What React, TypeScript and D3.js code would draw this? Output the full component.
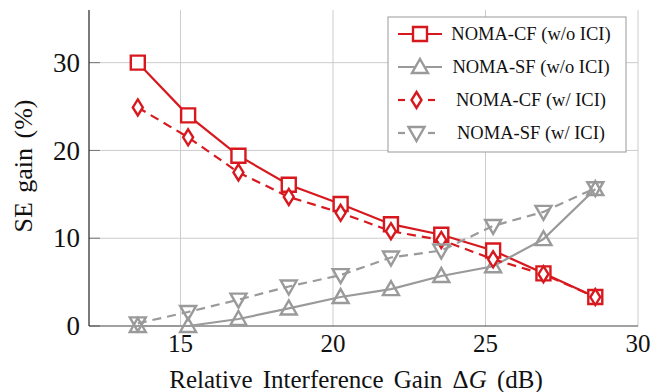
import React, { useEffect, useRef } from "react";
import * as d3 from "d3";

// relative interference gain (dB)
const gainDb = [13.6, 15.25, 16.9, 18.55, 20.25, 21.9, 23.55, 25.25, 26.9, 28.6];

const cfNoIci = [30.0, 24.0, 19.4, 16.1, 13.9, 11.6, 10.4, 8.6, 6.0, 3.3];
const sfNoIci = [0.0, 0.0, 0.8, 2.0, 3.3, 4.2, 5.7, 6.8, 9.9, 15.6];
const cfIci = [24.9, 21.5, 17.5, 14.7, 12.9, 10.8, 9.8, 7.6, 5.9, 3.3];
const sfIci = [0.3, 1.6, 3.0, 4.5, 5.8, 7.8, 8.6, 11.4, 13.0, 15.7];

const xTicks = [15, 20, 25, 30];
const yTicks = [0, 10, 20, 30];

const RED = "#d7191f";
const GREY = "#9a9a9a";

type Marker = "square" | "triUp" | "diamond" | "triDown";

interface Series {
  name: string;
  values: number[];
  color: string;
  dashed: boolean;
  marker: Marker;
}

const series: Series[] = [
  { name: "NOMA-CF (w/o ICI)", values: cfNoIci, color: RED, dashed: false, marker: "square" },
  { name: "NOMA-SF (w/o ICI)", values: sfNoIci, color: GREY, dashed: false, marker: "triUp" },
  { name: "NOMA-CF (w/ ICI)", values: cfIci, color: RED, dashed: true, marker: "diamond" },
  { name: "NOMA-SF (w/ ICI)", values: sfIci, color: GREY, dashed: true, marker: "triDown" },
];

const markerPath = (m: Marker) => {
  switch (m) {
    case "square":
      return "M-7,-7H7V7H-7Z";
    case "triUp":
      return "M0,-8L8,6H-8Z";
    case "triDown":
      return "M0,8L8,-6H-8Z";
    case "diamond":
      return "M0,-8L5,0L0,8L-5,0Z";
  }
};

const FONT = "Liberation Serif, DejaVu Serif, Times New Roman, serif";

export default function App() {
  const svgRef = useRef<SVGSVGElement | null>(null);

  useEffect(() => {
    if (!svgRef.current) return;
    const svg = d3.select(svgRef.current);
    svg.selectAll("*").remove();

    const margin = { top: 10, right: 16, bottom: 66, left: 89 };
    const H = 392;
    const height = H - margin.top - margin.bottom;

    const x = d3.scaleLinear().domain([12, 30]).range([0, 549]);
    const y = d3.scaleLinear().domain([0, 36]).range([height, 0]);

    const g = svg.append("g").attr("transform", `translate(${margin.left},${margin.top})`);

    // grid
    g.selectAll(".gx")
      .data(xTicks)
      .join("line")
      .attr("x1", (d) => x(d))
      .attr("x2", (d) => x(d))
      .attr("y1", 0)
      .attr("y2", height)
      .attr("stroke", "#cccccc")
      .attr("stroke-width", 1);
    g.selectAll(".gy")
      .data(yTicks.filter((d) => d > 0))
      .join("line")
      .attr("x1", 0)
      .attr("x2", x(30))
      .attr("y1", (d) => y(d))
      .attr("y2", (d) => y(d))
      .attr("stroke", "#cccccc")
      .attr("stroke-width", 1);

    // ticks (inside)
    g.selectAll(".ty")
      .data(yTicks)
      .join("line")
      .attr("x1", 0)
      .attr("x2", 11)
      .attr("y1", (d) => y(d))
      .attr("y2", (d) => y(d))
      .attr("stroke", "#777");

    // axes
    g.append("line")
      .attr("x1", 0).attr("x2", 0)
      .attr("y1", 0).attr("y2", height)
      .attr("stroke", "#222").attr("stroke-width", 1.2);
    g.append("line")
      .attr("x1", 0).attr("x2", x(30))
      .attr("y1", height).attr("y2", height)
      .attr("stroke", "#444").attr("stroke-width", 1.2);

    // tick labels
    g.selectAll(".lx")
      .data(xTicks)
      .join("text")
      .attr("x", (d) => x(d))
      .attr("y", height + 26)
      .attr("text-anchor", "middle")
      .style("font-family", FONT)
      .style("font-size", "25px")
      .attr("fill", "#111")
      .text((d) => d);
    g.selectAll(".ly")
      .data(yTicks)
      .join("text")
      .attr("x", -9)
      .attr("y", (d) => y(d))
      .attr("dy", "0.34em")
      .attr("text-anchor", "end")
      .style("font-family", FONT)
      .style("font-size", "27px")
      .attr("fill", "#111")
      .text((d) => d);

    // axis titles
    const xl = svg.append("text")
      .attr("x", 356)
      .attr("y", 388)
      .attr("text-anchor", "middle")
      .style("font-family", FONT)
      .style("font-size", "25px")
      .style("word-spacing", "4px")
      .attr("fill", "#111");
    xl.append("tspan").text("Relative Interference Gain \u0394");
    xl.append("tspan").attr("font-style", "italic").text("G");
    xl.append("tspan").text(" (dB)");

    svg.append("text")
      .attr("transform", `translate(32,166) rotate(-90)`)
      .attr("text-anchor", "middle")
      .style("font-family", FONT)
      .style("font-size", "26px")
      .style("word-spacing", "3px")
      .attr("fill", "#111")
      .text("SE gain (%)");

    // lines + markers
    const line = d3.line<number>()
      .x((_, i) => x(gainDb[i]))
      .y((d) => y(d));

    series.forEach((s) => {
      g.append("path")
        .datum(s.values)
        .attr("d", line)
        .attr("fill", "none")
        .attr("stroke", s.color)
        .attr("stroke-width", 2.2)
        .attr("stroke-dasharray", s.dashed ? "9,6" : null);
    });
    series.forEach((s) => {
      g.selectAll(null)
        .data(s.values)
        .join("path")
        .attr("transform", (d, i) => `translate(${x(gainDb[i])},${y(d)})`)
        .attr("d", markerPath(s.marker))
        .attr("fill", "white")
        .attr("fill-opacity", s.marker === "diamond" || s.marker === "square" ? 1 : 0)
        .attr("stroke", s.color)
        .attr("stroke-width", 2.4);
    });

    // legend
    const lg = svg.append("g").attr("transform", "translate(388,17)");
    lg.append("rect")
      .attr("width", 238)
      .attr("height", 135)
      .attr("fill", "white")
      .attr("stroke", "#999")
      .attr("stroke-width", 1);
    series.forEach((s, i) => {
      const cy = 17 + i * 33;
      const row = lg.append("g").attr("transform", `translate(0,${cy})`);
      if (s.dashed) {
        row.append("line").attr("x1", 10).attr("x2", 17).attr("y1", 0).attr("y2", 0)
          .attr("stroke", s.color).attr("stroke-width", 2.2);
        row.append("line").attr("x1", 40).attr("x2", 47).attr("y1", 0).attr("y2", 0)
          .attr("stroke", s.color).attr("stroke-width", 2.2);
      } else {
        row.append("line").attr("x1", 10).attr("x2", 54).attr("y1", 0).attr("y2", 0)
          .attr("stroke", s.color).attr("stroke-width", 2.2);
      }
      const mx = s.dashed ? 28.5 : 32;
      row.append("path")
        .attr("transform", `translate(${mx},0)`)
        .attr("d", markerPath(s.marker))
        .attr("fill", "white")
        .attr("stroke", s.color)
        .attr("stroke-width", 2.4);
      row.append("text")
        .attr("x", 143)
        .attr("y", 0)
        .attr("dy", "0.35em")
        .attr("text-anchor", "middle")
        .style("font-family", FONT)
        .style("font-size", "18.5px")
        .attr("fill", "#111")
        .text(s.name);
    });
  }, []);

  return (
    <div style={{ position: "absolute", left: 0, top: 0 }}>
      <svg ref={svgRef} width={654} height={392} style={{ display: "block", background: "white" }} />
    </div>
  );
}
